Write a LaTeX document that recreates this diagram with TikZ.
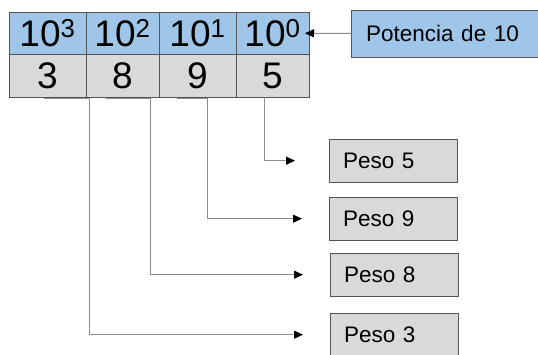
\documentclass[tikz,border=0pt]{standalone}
\usepackage{fontspec}
\setmainfont{Liberation Sans}
\usetikzlibrary{arrows.meta,positioning,calc}
\definecolor{Sky}{HTML}{9FC5E8}
\definecolor{Ash}{HTML}{D9D9D9}
\definecolor{Edge}{HTML}{555555}
\definecolor{Wire}{HTML}{8C8C8C}

\begin{document}
\begin{tikzpicture}[x=1pt,y=-1pt,
    c/.style={draw=Edge,outer sep=0pt,inner sep=0pt,minimum height=42.5pt,font=\fontsize{37}{40}\selectfont},
    pw/.style={draw=Edge,fill=Ash,anchor=north west,text width=100pt,inner xsep=14pt,inner ysep=0pt,minimum height=43pt,align=left,font=\fontsize{22.5}{24}\selectfont},
    a/.style={-{Triangle[length=9pt,width=8pt,color=black]},draw=Wire,line width=1pt,shorten >=27pt}]
  \clip (0,0) rectangle (538,354);
  % potencias
  \node[c,fill=Sky,minimum width=77pt,anchor=north west] (pot3) at (9,12) {10\textsuperscript{3}};
  \node[c,fill=Sky,minimum width=73pt,right=0pt of pot3] (pot2) {10\textsuperscript{2}};
  \node[c,fill=Sky,minimum width=77pt,right=0pt of pot2] (pot1) {10\textsuperscript{1}};
  \node[c,fill=Sky,minimum width=73pt,right=0pt of pot1] (pot0) {10\textsuperscript{0}};
  % digitos
  \node[c,fill=Ash,minimum width=77pt,below=0pt of pot3] (dig3) {3};
  \node[c,fill=Ash,minimum width=73pt,below=0pt of pot2] (dig8) {8};
  \node[c,fill=Ash,minimum width=77pt,below=0pt of pot1] (dig9) {9};
  \node[c,fill=Ash,minimum width=73pt,below=0pt of pot0] (dig5) {5};
  \node[pw,fill=Sky,text width=180pt,inner xsep=15pt,minimum height=47pt] (potencia) at (351,10) {Potencia de 10};
  \node[pw] (peso5) at (329,139) {Peso 5};
  \node[pw] (peso9) at (329,197) {Peso 9};
  \node[pw] (peso8) at (330,253) {Peso 8};
  \node[pw] (peso3) at (330,313) {Peso 3};
  \draw[a,shorten >=0pt] (potencia) -- ([xshift=-4pt]pot0.east);
  \draw[a,shorten >=34pt] ([xshift=-8pt]dig5.south) |- (peso5.west);
  \draw[a] ([xshift=-21pt,yshift=-1pt]dig9.south) -- ([xshift=10pt,yshift=-1pt]dig9.south) |- (peso9.west);
  \draw[a] ([xshift=-17pt,yshift=-1pt]dig8.south) -- ([xshift=-9pt,yshift=-1pt]dig8.south east) |- (peso8.west);
  \draw[a] ([xshift=-4pt,yshift=-1pt]dig3.south) -- ([xshift=3pt,yshift=-1pt]dig3.south east) |- (peso3.west);
\end{tikzpicture}
\end{document}
